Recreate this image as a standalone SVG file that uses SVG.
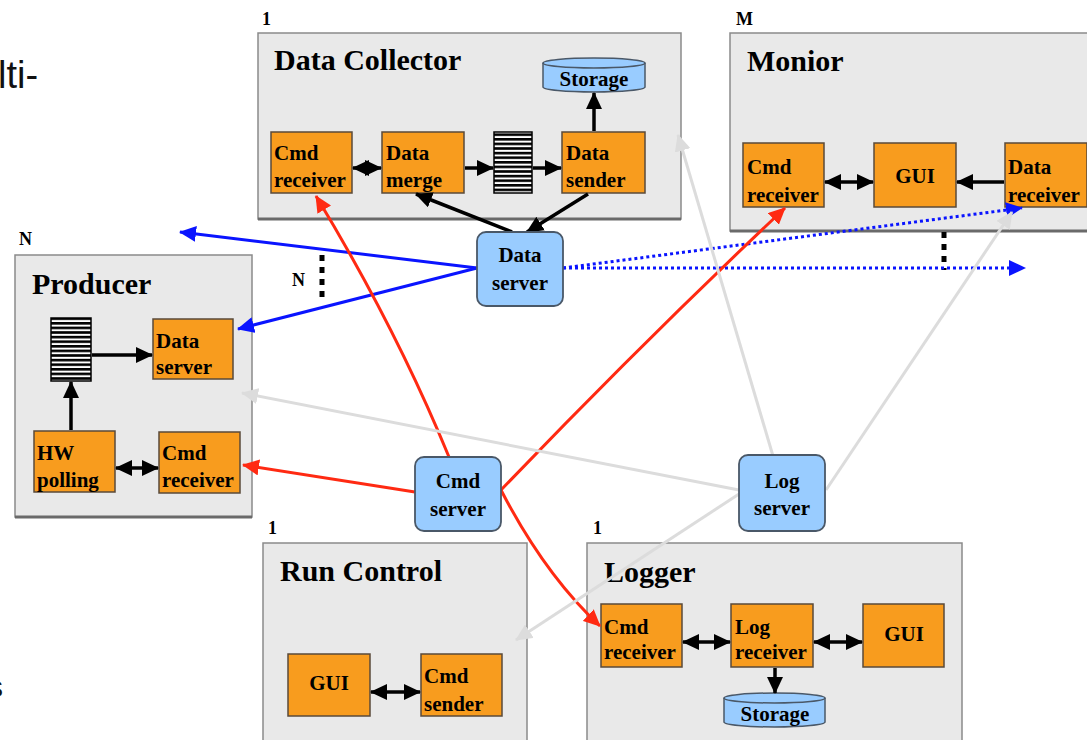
<svg xmlns="http://www.w3.org/2000/svg" width="1087" height="740" viewBox="0 0 1087 740">
  <style>
    .frame { fill: #e9e9e9; stroke: #8a8a8a; stroke-width: 1.5; }
    .frame-edge { stroke: #6a6a6a; stroke-width: 3; }
    .mod { fill: #f89c1e; stroke: #5a4a3a; stroke-width: 1.5; }
    .srv { fill: #99ccff; stroke: #4a5868; stroke-width: 1.8; }
    .db { fill: #99ccff; stroke: #4a5868; stroke-width: 1.5; }
    .t { font-family: "Liberation Serif", "Times New Roman", serif; font-weight: bold; fill: #000; }
    .title { font-size: 30px; }
    .lbl { font-size: 21px; }
    .card { font-size: 18px; }
    .mid { text-anchor: middle; }
    .slide { font-family: "Liberation Sans", Arial, sans-serif; fill: #111; }
    .blk { fill: none; stroke: #000; stroke-width: 3.5; }
    .blue { fill: none; stroke: #0a14ff; stroke-width: 3; }
    .bluedot { fill: none; stroke: #0a14ff; stroke-width: 3; stroke-dasharray: 3 3; }
    .red { fill: none; stroke: #ff2a12; stroke-width: 3; }
    .grey { fill: none; stroke: #dcdcdc; stroke-width: 3; }
    .mult { fill: none; stroke: #000; stroke-width: 5; stroke-dasharray: 6 6; }
  </style>
  <defs>
    <marker id="ah-k" markerUnits="userSpaceOnUse" markerWidth="17" markerHeight="16" refX="16" refY="8" orient="auto-start-reverse">
      <path d="M0,0 L17,8 L0,16 z" fill="#000"/>
    </marker>
    <marker id="ah-b" markerUnits="userSpaceOnUse" markerWidth="17" markerHeight="16" refX="16" refY="8" orient="auto">
      <path d="M0,0 L17,8 L0,16 z" fill="#0a14ff"/>
    </marker>
    <marker id="ah-r" markerUnits="userSpaceOnUse" markerWidth="17" markerHeight="16" refX="16" refY="8" orient="auto">
      <path d="M0,0 L17,8 L0,16 z" fill="#ff2a12"/>
    </marker>
    <marker id="ah-g" markerUnits="userSpaceOnUse" markerWidth="17" markerHeight="16" refX="16" refY="8" orient="auto">
      <path d="M0,0 L17,8 L0,16 z" fill="#dcdcdc"/>
    </marker>
    <pattern id="stripes" patternUnits="userSpaceOnUse" x="0" y="0" width="10" height="4.6">
      <rect width="10" height="4.6" fill="#000"/>
      <rect y="2.6" width="10" height="2" fill="#fff"/>
    </pattern>
  </defs>

  <rect width="1087" height="740" fill="#fff"/>

  <!-- slide text cut by the page edge -->
  <text class="slide" x="-2" y="88" font-size="38">lti-</text>
  <text class="slide" x="-12" y="697" font-size="30">s</text>

  <!-- Data Collector -->
  <g id="data-collector">
    <text class="t card" x="262" y="25">1</text>
    <rect class="frame" x="258" y="33" width="423" height="186"/>
    <line class="frame-edge" x1="258" y1="219" x2="681" y2="219"/>
    <text class="t title" x="274" y="70">Data Collector</text>
    <g id="dc-storage">
      <path class="db" d="M543,63 v24 a51,5 0 0 0 102,0 v-24"/>
      <ellipse class="db" cx="594" cy="63" rx="51" ry="5"/>
      <text class="t lbl mid" x="594" y="86">Storage</text>
    </g>
    <g id="dc-cmd-receiver">
      <rect class="mod" x="271" y="132" width="81" height="61"/>
      <text class="t lbl" x="274" y="160">Cmd</text>
      <text class="t lbl" x="274" y="187">receiver</text>
    </g>
    <g id="dc-data-merge">
      <rect class="mod" x="382" y="132" width="82" height="61"/>
      <text class="t lbl" x="386" y="160">Data</text>
      <text class="t lbl" x="386" y="187">merge</text>
    </g>
    <g id="dc-buffer">
      <rect x="494" y="132" width="38" height="61" fill="url(#stripes)" stroke="#000" stroke-width="1.5"/>
    </g>
    <g id="dc-data-sender">
      <rect class="mod" x="562" y="132" width="83" height="61"/>
      <text class="t lbl" x="566" y="160">Data</text>
      <text class="t lbl" x="566" y="187">sender</text>
    </g>
  </g>

  <!-- Monitor -->
  <g id="monitor">
    <text class="t card" x="736" y="25">M</text>
    <rect class="frame" x="730" y="33" width="362" height="198"/>
    <line class="frame-edge" x1="730" y1="231" x2="1092" y2="231"/>
    <text class="t title" x="747" y="71">Monior</text>
    <g id="mon-cmd-receiver">
      <rect class="mod" x="743" y="143" width="81" height="64"/>
      <text class="t lbl" x="747" y="174">Cmd</text>
      <text class="t lbl" x="747" y="202">receiver</text>
    </g>
    <g id="mon-gui">
      <rect class="mod" x="874" y="143" width="82" height="64"/>
      <text class="t lbl mid" x="915" y="183">GUI</text>
    </g>
    <g id="mon-data-receiver">
      <rect class="mod" x="1005" y="143" width="82" height="64"/>
      <text class="t lbl" x="1008" y="174">Data</text>
      <text class="t lbl" x="1008" y="202">receiver</text>
    </g>
  </g>

  <!-- Producer -->
  <g id="producer">
    <text class="t card" x="19" y="245">N</text>
    <rect class="frame" x="15" y="255" width="237" height="262"/>
    <line class="frame-edge" x1="15" y1="517" x2="252" y2="517"/>
    <text class="t title" x="32" y="294">Producer</text>
    <g id="prod-buffer">
      <rect x="51" y="318" width="40" height="63" fill="url(#stripes)" stroke="#000" stroke-width="1.5"/>
    </g>
    <g id="prod-data-server">
      <rect class="mod" x="153" y="319" width="80" height="60"/>
      <text class="t lbl" x="156" y="348">Data</text>
      <text class="t lbl" x="156" y="374">server</text>
    </g>
    <g id="prod-hw-polling">
      <rect class="mod" x="34" y="431" width="81" height="61"/>
      <text class="t lbl" x="37" y="460">HW</text>
      <text class="t lbl" x="37" y="487">polling</text>
    </g>
    <g id="prod-cmd-receiver">
      <rect class="mod" x="159" y="432" width="81" height="61"/>
      <text class="t lbl" x="162" y="460">Cmd</text>
      <text class="t lbl" x="162" y="487">receiver</text>
    </g>
  </g>

  <!-- Run Control -->
  <g id="run-control">
    <text class="t card" x="268" y="534">1</text>
    <rect class="frame" x="263" y="543" width="264" height="210"/>
    <text class="t title" x="280" y="581">Run Control</text>
    <g id="rc-gui">
      <rect class="mod" x="288" y="654" width="82" height="62"/>
      <text class="t lbl mid" x="329" y="690">GUI</text>
    </g>
    <g id="rc-cmd-sender">
      <rect class="mod" x="421" y="654" width="81" height="62"/>
      <text class="t lbl" x="424" y="683">Cmd</text>
      <text class="t lbl" x="424" y="711">sender</text>
    </g>
  </g>

  <!-- Logger -->
  <g id="logger">
    <text class="t card" x="593" y="534">1</text>
    <rect class="frame" x="587" y="543" width="375" height="210"/>
    <text class="t title" x="604" y="582">Logger</text>
    <g id="log-cmd-receiver">
      <rect class="mod" x="601" y="604" width="81" height="63"/>
      <text class="t lbl" x="604" y="634">Cmd</text>
      <text class="t lbl" x="604" y="659">receiver</text>
    </g>
    <g id="log-log-receiver">
      <rect class="mod" x="731" y="604" width="82" height="63"/>
      <text class="t lbl" x="735" y="634">Log</text>
      <text class="t lbl" x="735" y="659">receiver</text>
    </g>
    <g id="log-gui">
      <rect class="mod" x="863" y="604" width="81" height="63"/>
      <text class="t lbl mid" x="904" y="641">GUI</text>
    </g>
    <g id="log-storage">
      <path class="db" d="M724,698 v24 a50.5,5 0 0 0 101,0 v-24"/>
      <ellipse class="db" cx="774.5" cy="698" rx="50.5" ry="5"/>
      <text class="t lbl mid" x="775" y="721">Storage</text>
    </g>
  </g>

  <!-- connectors -->
  <g id="connectors">
    <!-- internal data flow -->
    <line class="blk" x1="594" y1="131" x2="594" y2="93" marker-end="url(#ah-k)"/>
    <line class="blk" x1="353" y1="168" x2="381" y2="168" marker-start="url(#ah-k)" marker-end="url(#ah-k)"/>
    <line class="blk" x1="465" y1="168" x2="493" y2="168" marker-end="url(#ah-k)"/>
    <line class="blk" x1="533" y1="168" x2="561" y2="168" marker-end="url(#ah-k)"/>
    <line class="blk" x1="512" y1="232" x2="416" y2="194" stroke-width="3" marker-end="url(#ah-k)"/>
    <line class="blk" x1="588" y1="194" x2="527" y2="232" stroke-width="3" marker-end="url(#ah-k)"/>
    <line class="blk" x1="825" y1="182" x2="873" y2="182" marker-start="url(#ah-k)" marker-end="url(#ah-k)"/>
    <line class="blk" x1="1004" y1="182" x2="957" y2="182" marker-end="url(#ah-k)"/>
    <line class="blk" x1="92" y1="355" x2="152" y2="355" marker-end="url(#ah-k)"/>
    <line class="blk" x1="71" y1="430" x2="71" y2="382" marker-end="url(#ah-k)"/>
    <line class="blk" x1="116" y1="468" x2="158" y2="468" marker-start="url(#ah-k)" marker-end="url(#ah-k)"/>
    <line class="blk" x1="371" y1="692" x2="420" y2="692" marker-start="url(#ah-k)" marker-end="url(#ah-k)"/>
    <line class="blk" x1="683" y1="642" x2="730" y2="642" marker-start="url(#ah-k)" marker-end="url(#ah-k)"/>
    <line class="blk" x1="814" y1="642" x2="862" y2="642" marker-start="url(#ah-k)" marker-end="url(#ah-k)"/>
    <line class="blk" x1="775" y1="668" x2="775" y2="693" marker-end="url(#ah-k)"/>

    <!-- multiplicity marks -->
    <line class="mult" x1="322" y1="255" x2="322" y2="300"/>
    <text class="t card" x="292" y="286">N</text>
    <line class="mult" x1="944" y1="232" x2="944" y2="270"/>

    <!-- data distribution -->
    <line class="blue" x1="477" y1="268" x2="180" y2="232" marker-end="url(#ah-b)"/>
    <line class="blue" x1="477" y1="268" x2="238" y2="329" marker-end="url(#ah-b)"/>
    <line class="bluedot" x1="563" y1="268" x2="1025" y2="268" marker-end="url(#ah-b)"/>
    <line class="bluedot" x1="563" y1="268" x2="1022" y2="208" marker-end="url(#ah-b)"/>

    <!-- commands -->
    <path class="red" d="M449,457 Q396,328 316,196" marker-end="url(#ah-r)"/>
    <line class="red" x1="415" y1="492" x2="243" y2="465" marker-end="url(#ah-r)"/>
    <path class="red" d="M501,490 Q645,340 785,208" marker-end="url(#ah-r)"/>
    <path class="red" d="M501,490 Q545,575 600,626" marker-end="url(#ah-r)"/>

    <!-- logging -->
    <line class="grey" x1="739" y1="490" x2="242" y2="393" marker-end="url(#ah-g)"/>
    <line class="grey" x1="773" y1="456" x2="678" y2="135" marker-end="url(#ah-g)"/>
    <line class="grey" x1="826" y1="490" x2="1012" y2="212" marker-end="url(#ah-g)"/>
    <line class="grey" x1="739" y1="494" x2="516" y2="640" marker-end="url(#ah-g)"/>
  </g>

  <!-- servers -->
  <g id="data-server">
    <rect class="srv" x="477" y="232" width="86" height="74" rx="9"/>
    <text class="t lbl mid" x="520" y="262">Data</text>
    <text class="t lbl mid" x="520" y="290">server</text>
  </g>
  <g id="cmd-server">
    <rect class="srv" x="415" y="457" width="86" height="74" rx="9"/>
    <text class="t lbl mid" x="458" y="488">Cmd</text>
    <text class="t lbl mid" x="458" y="516">server</text>
  </g>
  <g id="log-server">
    <rect class="srv" x="739" y="455" width="86" height="76" rx="9"/>
    <text class="t lbl mid" x="782" y="488">Log</text>
    <text class="t lbl mid" x="782" y="515">server</text>
  </g>
</svg>
